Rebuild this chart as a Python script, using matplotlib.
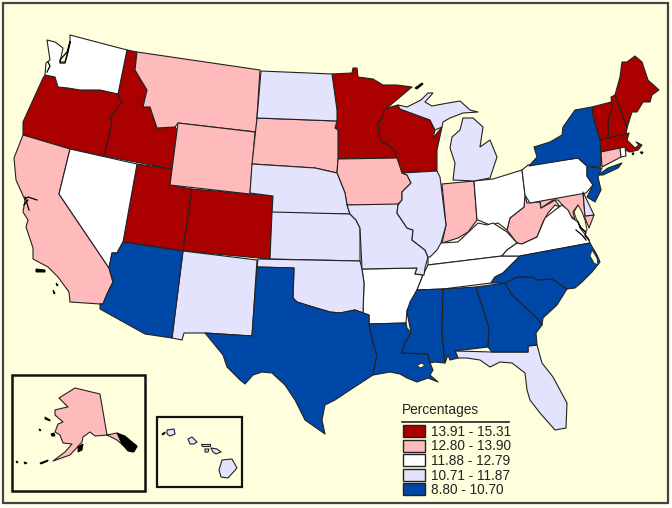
import matplotlib
matplotlib.use("Agg")
import matplotlib.pyplot as plt
from matplotlib.patches import Polygon, Rectangle

plt.rcParams['font.family'] = ['Liberation Sans', 'DejaVu Sans']

# legend
legend_title = "Percentages"
class_labels = ["13.91 - 15.31", "12.80 - 13.90", "11.88 - 12.79", "10.71 - 11.87", "8.80 - 10.70"]
class_colors = ["#AA0000", "#FFBBBB", "#FFFFFF", "#E3E3FD", "#0048A8"]

# which class each state falls in
class_states = [
    ["OR", "ID", "UT", "CO", "MN", "WI", "ME", "NH", "VT", "MA"],
    ["CA", "MT", "WY", "SD", "IA", "IN", "WV", "MD", "CT", "AK"],
    ["WA", "NV", "AR", "OH", "PA", "KY", "TN", "VA", "RI"],
    ["ND", "NE", "KS", "OK", "NM", "MO", "IL", "MI", "MI2", "FL", "DE",
     "HI1", "HI2", "HI3", "HI4", "HI5", "HI6"],
    ["AZ", "TX", "LA", "MS", "AL", "GA", "SC", "NC", "NY", "LI", "NJ"],
]

# state outlines in pixels
WA = [(70,35),(127,50),(118,94),(100,90),(80,90),(68,88),(58,87),(55,77),(45,75),(46,63),(50,60),(47,40),(55,42),(63,48),(60,62),(65,62),(70,43)]
OR = [(45,75),(55,77),(58,87),(68,88),(80,90),(100,90),(118,94),(122,102),(110,118),(112,123),(104,156),(70,149),(23,135),(23,122),(33,100),(43,78)]
ID = [(127,50),(137,52),(135,70),(147,90),(143,107),(150,107),(157,128),(175,127),(177,130),(172,169),(104,156),(112,123),(110,118),(122,102),(118,94)]
MT = [(137,52),(260,70),(256,132),(178,123),(175,127),(157,128),(150,107),(143,107),(147,90),(135,70)]
WY = [(178,123),(255,132),(250,194),(170,185)]
UT = [(172,169),(170,185),(192,189),(183,251),(123,242),(137,164)]
CO = [(192,189),(273,196),(270,259),(183,251)]
NV = [(70,149),(137,164),(123,242),(117,253),(112,253),(109,268),(59,194)]
CA = [(23,135),(70,149),(59,194),(109,268),(113,282),(107,294),(103,304),(100,304),(70,302),(69,292),(58,277),(48,267),(33,259),(33,248),(26,227),(28,220),(23,212),(25,200),(16,180),(14,158)]
AZ = [(123,242),(183,251),(172,338),(145,334),(100,309),(100,304),(103,304),(107,294),(113,282),(109,268),(112,253),(117,253)]
NM = [(183,251),(257,260),(252,336),(205,333),(184,333),(182,340),(172,338)]
TX = [(257,267),(294,268),(293,298),(297,302),(313,307),(330,312),(340,313),(355,310),(369,315),(369,324),(373,343),(377,355),(373,375),(350,390),(335,400),(325,405),(322,420),(325,434),(305,420),(295,400),(285,385),(272,373),(262,372),(253,375),(245,384),(240,380),(227,367),(223,355),(205,333),(252,336)]
OK = [(258,259),(360,261),(362,269),(364,283),(363,313),(355,310),(340,313),(330,312),(313,307),(297,302),(293,298),(294,268),(257,267)]
KS = [(272,212),(350,214),(356,220),(360,228),(360,261),(270,259)]
NE = [(252,164),(315,168),(337,173),(345,193),(347,205),(350,214),(272,213),(273,196),(250,193)]
SD = [(257,118),(337,121),(335,128),(338,130),(338,159),(337,173),(315,168),(252,164)]
ND = [(261,71),(332,74),(337,110),(337,121),(257,118)]
MN = [(332,74),(352,73),(353,68),(357,68),(358,77),(373,79),(383,85),(397,85),(412,87),(387,108),(384,110),(383,118),(378,123),(380,140),(395,150),(397,158),(338,159),(338,130),(335,128),(337,121),(337,110)]
WI = [(387,108),(398,105),(400,109),(430,120),(435,130),(433,138),(442,127),(437,150),(437,171),(402,173),(397,158),(395,150),(380,140),(378,123),(383,118),(384,110)]
IA = [(338,159),(397,158),(402,173),(407,175),(411,183),(402,192),(402,200),(397,205),(347,205),(345,193),(337,173)]
IL = [(402,173),(437,171),(440,177),(446,225),(441,243),(437,250),(430,257),(428,257),(425,250),(412,240),(413,230),(407,228),(397,213),(398,205),(402,200),(402,192),(411,183),(407,175)]
MO = [(347,205),(398,204),(397,213),(407,228),(413,230),(412,240),(425,250),(428,257),(425,268),(424,275),(415,274),(417,268),(362,269),(360,228),(356,220),(350,214)]
AR = [(362,269),(417,268),(415,274),(423,275),(417,290),(407,310),(406,323),(369,324),(369,315),(363,313),(364,283)]
LA = [(369,324),(406,323),(407,328),(411,333),(405,343),(402,353),(428,354),(430,363),(433,370),(430,375),(438,382),(428,378),(417,382),(407,378),(400,374),(390,372),(373,375),(377,355),(373,343)]
MS = [(417,290),(443,289),(442,333),(445,363),(435,362),(430,363),(428,354),(402,353),(405,343),(411,333),(407,312),(410,302)]
AL = [(443,289),(476,287),(489,328),(488,347),(455,351),(458,358),(450,360),(448,355),(445,363),(442,333)]
GA = [(476,287),(505,283),(512,295),(537,318),(542,325),(536,333),(537,345),(528,346),(528,352),(492,352),(488,347),(489,328)]
FL = [(455,351),(492,352),(528,352),(528,346),(537,345),(542,363),(553,377),(567,403),(566,428),(555,430),(540,413),(530,400),(527,390),(525,373),(512,363),(500,362),(490,367),(480,360),(467,358),(458,358)]
SC = [(505,283),(517,277),(533,277),(537,280),(552,279),(567,289),(557,305),(543,318),(542,325),(537,318),(512,295)]
NC = [(520,256),(590,243),(597,255),(600,262),(592,272),(582,282),(575,288),(567,289),(552,279),(537,280),(533,277),(517,277),(505,283),(491,283),(495,277),(503,273),(513,263)]
TN = [(428,265),(502,256),(520,256),(513,263),(503,273),(495,277),(491,283),(443,289),(417,290),(423,275)]
KY = [(428,257),(440,243),(458,242),(478,223),(487,225),(493,223),(507,232),(517,243),(507,250),(502,256),(428,265)]
VA = [(517,243),(507,250),(502,256),(520,256),(590,243),(588,238),(580,228),(578,222),(572,218),(568,210),(562,205),(555,210),(545,218),(537,237),(522,244)]
WV = [(507,230),(510,218),(524,207),(525,195),(527,203),(540,202),(541,208),(552,202),(555,200),(560,207),(555,205),(548,213),(543,222),(537,237),(522,244),(517,243)]
OH = [(474,181),(493,179),(522,170),(525,195),(524,207),(510,218),(507,230),(498,223),(490,225),(478,220),(477,220)]
IN = [(442,184),(474,181),(477,220),(468,232),(458,238),(442,243),(446,225)]
MI = [(453,180),(455,163),(450,148),(452,137),(460,130),(463,118),(473,118),(483,127),(480,147),(490,140),(497,157),(490,178),(474,181)]
MI2 = [(398,105),(407,107),(421,100),(428,93),(433,93),(425,102),(432,106),(448,103),(460,101),(470,110),(478,112),(463,113),(450,118),(443,122),(442,127),(435,130),(430,120),(400,109)]
PA = [(522,170),(528,165),(578,158),(587,166),(587,176),(593,185),(586,193),(530,203),(525,195)]
NY = [(529,166),(537,157),(534,147),(550,142),(562,135),(563,127),(575,110),(592,107),(593,117),(600,140),(601,165),(600,167),(587,166),(578,158)]
LI = [(598,175),(608,168),(622,163),(618,168),(603,175)]
NJ = [(587,167),(602,168),(598,177),(601,190),(595,202),(587,197),(593,185),(587,176)]
CT = [(601,152),(620,148),(621,157),(602,167)]
RI = [(620,148),(625,147),(626,156),(621,157)]
MA = [(600,140),(626,134),(629,133),(627,140),(635,148),(639,145),(636,142),(642,145),(638,150),(630,152),(625,150),(620,148),(601,153)]
VT = [(592,107),(611,102),(612,107),(608,122),(608,139),(600,140),(595,122)]
NH = [(611,97),(615,95),(627,128),(626,134),(608,139),(608,122),(612,107)]
ME = [(615,95),(620,77),(622,62),(627,62),(635,56),(642,62),(648,80),(659,90),(652,95),(650,102),(643,102),(637,112),(632,112),(627,128)]
DE = [(583,192),(594,215),(585,216)]
MD = [(540,201),(583,192),(585,216),(594,215),(589,228),(585,218),(579,212),(578,205),(573,212),(575,220),(570,215),(565,208),(558,200),(553,200),(541,208)]
AK = [(75,388),(100,394),(107,435),(117,433),(127,440),(137,447),(132,452),(125,447),(117,440),(107,435),(95,436),(90,432),(83,437),(82,442),(70,455),(53,461),(65,452),(72,444),(63,443),(60,435),(55,432),(58,424),(63,422),(55,415),(55,410),(63,408),(68,407),(59,398),(67,393)]
HI1 = [(167,430),(174,429),(175,434),(170,436),(167,434)]
HI2 = [(188,439),(192,437),(197,442),(194,444),(190,444)]
HI3 = [(201,444),(210,444),(210,446),(202,446)]
HI4 = [(205,449),(209,449),(208,452),(205,452)]
HI5 = [(211,448),(217,449),(221,452),(216,454),(213,452)]
HI6 = [(222,460),(232,459),(237,468),(228,478),(221,477),(219,470)]

# small black islands
black_bits = [
    [(36,269),(45,270),(45,272),(36,272)],
    [(56,283),(58,285),(57,286)],
    [(53,290),(55,293),(54,294)],
    [(45,417),(50,420),(50,421),(45,419)],
    [(39,429),(41,430),(40,431)],
    [(51,434),(54,433),(55,436),(52,436)],
    [(16,461),(18,462),(17,463)],
    [(24,462),(27,463),(25,464)],
    [(40,463),(48,460),(48,461),(41,464)],
    [(78,447),(83,444),(82,450),(78,452)],
    [(117,433),(125,436),(137,446),(134,452),(128,451),(122,444)],
    [(162,434),(165,432),(165,433),(163,435)],
    [(415,88),(422,83),(423,84),(417,89)],
    [(632,153),(634,153),(633,155)],
    [(640,152),(643,152),(642,154)],
]
# thin coastal scribble: Puget Sound, San Francisco Bay, Chesapeake
scribble = [
    [(70,42),(67,52),(60,60),(60,63),(65,63),(68,52),(70,42)],
    [(48,62),(50,66),(47,72)],
    [(25,199),(28,197),(37,200)],
    [(25,197),(29,210)],
    [(28,200),(24,205)],
    [(578,222),(581,228),(586,232),(585,236),(589,240)],
    [(576,230),(582,235),(586,240)],
]
bay = [(578,205),(582,212),(585,220),(587,230),(585,232),(580,226),(576,218),(574,212)]
# sounds and lakes left in background colour
water = [
    [(592,250),(597,258),(598,265),(594,263),(590,256)],
    [(417,366),(421,363),(425,365),(421,368)],
]

class_of = {}
for c, states in enumerate(class_states):
    for s in states:
        class_of[s] = c

fig = plt.figure(figsize=(6.72, 5.08), dpi=100, facecolor="#FFFFEE")
ax = fig.add_axes([0, 0, 1, 1])
ax.set_xlim(0, 672)
ax.set_ylim(508, 0)
ax.axis("off")

# background and outer frame
ax.add_patch(Rectangle((2.5, 3), 665, 499.5, fc="#FFFFDD", ec="#444444", lw=1.6))

edge = "#222222"
for name, c in class_of.items():
    ax.add_patch(Polygon(globals()[name], closed=True, fc=class_colors[c], ec=edge, lw=0.8, joinstyle="round"))

ax.add_patch(Polygon(bay, closed=True, fc="#FFFFDD", ec=edge, lw=0.7))
for w in water:
    ax.add_patch(Polygon(w, closed=True, fc="#FFFFDD", ec=edge, lw=0.6))
for bit in black_bits:
    ax.add_patch(Polygon(bit, closed=True, fc="black", ec="black", lw=0.7))
for line in scribble:
    ax.plot([p[0] for p in line], [p[1] for p in line], color="black", lw=0.9)

# inset boxes
ax.add_patch(Rectangle((11.5, 374.5), 133, 116, fc="none", ec="#111111", lw=1.8))
ax.add_patch(Rectangle((156.5, 416.5), 85.5, 70, fc="none", ec="#111111", lw=1.6))

# legend
ax.text(402, 414, legend_title, fontsize=9.9, color="#222222", va="baseline")
ax.plot([402, 509], [422, 422], color="#222222", lw=1.2)
for i, (lab, col) in enumerate(zip(class_labels, class_colors)):
    y = 425 + i * 14.5
    ax.add_patch(Rectangle((403, y), 22, 12, fc=col, ec="#222222", lw=1))
    ax.text(431, y + 11, lab, fontsize=9.8, color="#222222", va="baseline")

fig.savefig("out.png", dpi=100, facecolor=fig.get_facecolor())
